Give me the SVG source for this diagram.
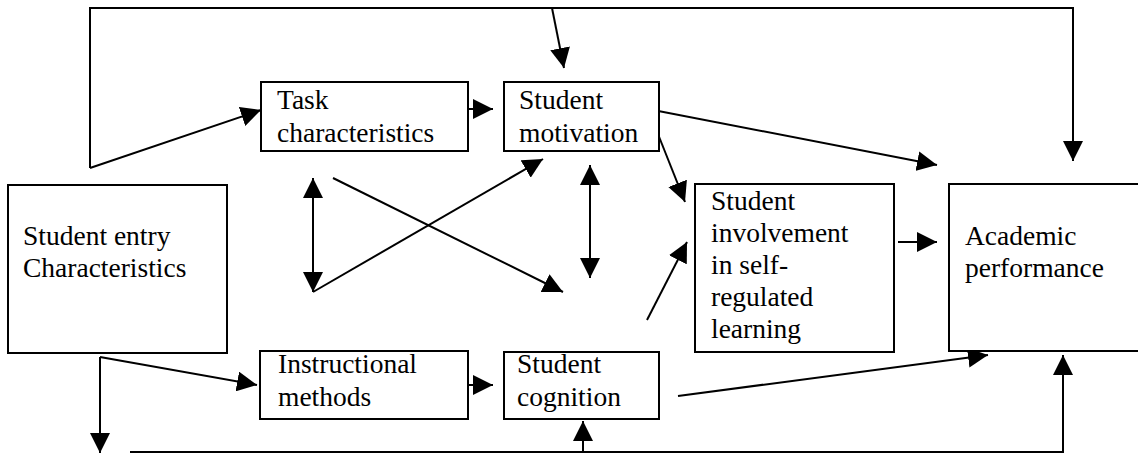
<svg xmlns="http://www.w3.org/2000/svg" width="1138" height="454" viewBox="0 0 1138 454">
<style>
.box{fill:#fff;stroke:#000;stroke-width:2}
.lbl{font-family:'Liberation Serif','DejaVu Serif',serif;font-size:27.5px;fill:#000}
.c{fill:none;stroke:#000;stroke-width:2}
</style>
<defs>
<marker id="ah" markerUnits="userSpaceOnUse" markerWidth="20" markerHeight="20" refX="20" refY="10" orient="auto-start-reverse" viewBox="0 0 20 20">
<path d="M0,0 L20,10 L0,20 z" fill="#000"/>
</marker>
</defs>
<rect width="1138" height="454" fill="#fff"/>
<g id="connectors">
<path class="c" d="M90,168 L90,8 L1073,8 L1073,161" marker-end="url(#ah)"/>
<path class="c" d="M90,168 L261,110" marker-end="url(#ah)"/>
<path class="c" d="M552,8 L564,68" marker-end="url(#ah)"/>
<path class="c" d="M455,109 L493,109" marker-end="url(#ah)"/>
<path class="c" d="M648,109 L937,165" marker-end="url(#ah)"/>
<path class="c" d="M648,109 L685,202" marker-end="url(#ah)"/>
<path class="c" d="M313,178 L313,292" marker-start="url(#ah)" marker-end="url(#ah)"/>
<path class="c" d="M313,292 L543,159" marker-end="url(#ah)"/>
<path class="c" d="M333,178 L563,292" marker-end="url(#ah)"/>
<path class="c" d="M590,165 L590,278" marker-start="url(#ah)" marker-end="url(#ah)"/>
<path class="c" d="M898,242 L937,242" marker-end="url(#ah)"/>
<path class="c" d="M647,320 L687,242" marker-end="url(#ah)"/>
<path class="c" d="M678,396 L988,355" marker-end="url(#ah)"/>
<path class="c" d="M100,357 L100,453" marker-end="url(#ah)"/>
<path class="c" d="M100,357 L257,385" marker-end="url(#ah)"/>
<path class="c" d="M455,385 L493,385" marker-end="url(#ah)"/>
<path class="c" d="M130,452 L1063,452 L1063,355" marker-end="url(#ah)"/>
<path class="c" d="M583,452 L583,421" marker-end="url(#ah)"/>
</g>
<g id="entry">
<rect class="box" x="8" y="185" width="219" height="168"/>
<text class="lbl" x="23" y="245">Student entry</text>
<text class="lbl" x="23" y="277">Characteristics</text>
</g>
<g id="task">
<rect class="box" x="261" y="82" width="207" height="69"/>
<text class="lbl" x="277" y="109">Task</text>
<text class="lbl" x="277" y="142">characteristics</text>
</g>
<g id="motivation">
<rect class="box" x="504" y="82" width="155" height="69"/>
<text class="lbl" x="519" y="109">Student</text>
<text class="lbl" x="519" y="142">motivation</text>
</g>
<g id="involvement">
<rect class="box" x="695" y="184" width="199" height="168"/>
<text class="lbl" x="711" y="210">Student</text>
<text class="lbl" x="711" y="242">involvement</text>
<text class="lbl" x="711" y="274">in self-</text>
<text class="lbl" x="711" y="306">regulated</text>
<text class="lbl" x="711" y="338">learning</text>
</g>
<g id="academic">
<rect class="box" x="949" y="184" width="200" height="167"/>
<text class="lbl" x="965" y="245">Academic</text>
<text class="lbl" x="965" y="277">performance</text>
</g>
<g id="instructional">
<rect class="box" x="260" y="351" width="208" height="68"/>
<text class="lbl" x="278" y="373">Instructional</text>
<text class="lbl" x="278" y="406">methods</text>
</g>
<g id="cognition">
<rect class="box" x="504" y="352" width="155" height="67"/>
<text class="lbl" x="517" y="373">Student</text>
<text class="lbl" x="517" y="406">cognition</text>
</g>
</svg>
